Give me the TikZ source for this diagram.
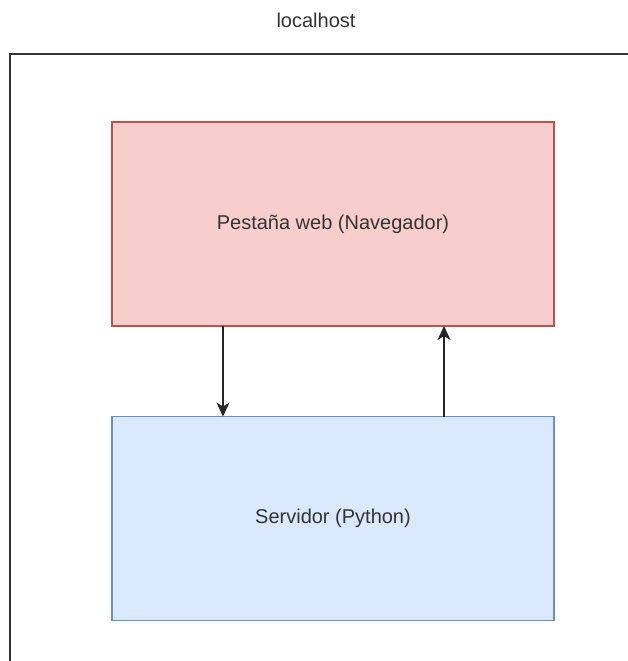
\documentclass[tikz,border=0pt]{standalone}
\usepackage{fontspec}
\setmainfont{Liberation Sans}
\usetikzlibrary{arrows.meta}
\definecolor{webfill}{HTML}{F8CECC}
\definecolor{webline}{HTML}{B85450}
\definecolor{srvfill}{HTML}{DAE8FC}
\definecolor{srvline}{HTML}{6C8EBF}
\definecolor{txt}{HTML}{333333}
\tikzset{
  lbl/.style={font=\fontsize{20pt}{24pt}\selectfont, text=txt},
  box/.style={draw, line width=1.2pt, minimum width=442pt, minimum height=204pt,
    inner sep=0pt, lbl},
  webbox/.style={box, fill=webfill, draw=webline},
  srvbox/.style={box, fill=srvfill, draw=srvline},
  flow/.style={line width=1.5pt, draw=black!85, -{Stealth[length=14pt,width=13pt,inset=4pt]}},
}
\begin{document}
\begin{tikzpicture}[x=1pt,y=-1pt]
  \useasboundingbox (0,0) rectangle (628,661);
  \fill[white] (0,0) rectangle (628,661);
  \begin{scope}
    \clip (0,0) rectangle (628,661);
    % host frame, running past the right and bottom edges
    \draw[line width=1.6pt, draw=black!80] (10,54) rectangle (700,720);
  \end{scope}
  \node[lbl] (host) at (316,20) {localhost};
  \node[webbox] (web) at (333,224) {Pestaña web (Navegador)};
  \node[srvbox] (srv) at (333,518.5) {Servidor (Python)};
  \coordinate (wa) at (223,326);
  \coordinate (sa) at (223,416.5);
  \coordinate (wb) at (444,326);
  \coordinate (sb) at (444,416.5);
  \draw[flow] (wa) -- (sa);
  \draw[flow] (sb) -- (wb);
\end{tikzpicture}
\end{document}
